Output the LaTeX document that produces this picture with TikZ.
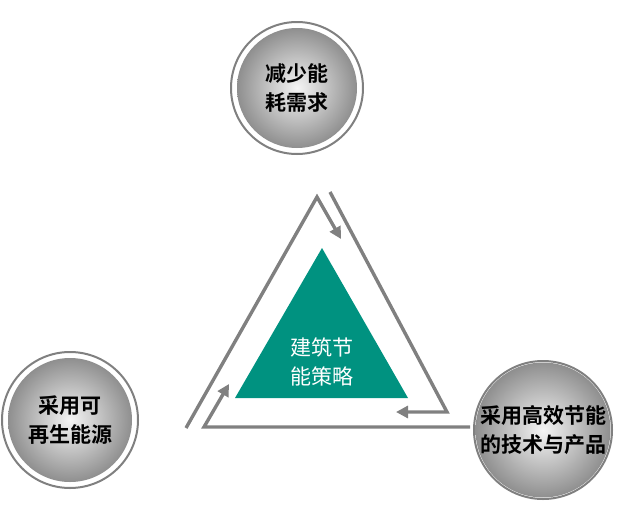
\documentclass[tikz,border=0pt]{standalone}
\usepackage{fontspec}
\newfontfamily\cjk{Noto Sans CJK SC}[BoldFont={Noto Sans CJK SC Bold}]
\usetikzlibrary{arrows.meta, shapes.geometric}
\definecolor{tealgreen}{RGB}{0, 146, 128}
\definecolor{gray50}{gray}{0.5}

\tikzset{
    ball/.style={circle, draw=gray50, line width=2pt, fill=white,
            minimum size=#1, inner sep=0pt},
    core/.style={circle, shading=radial, inner color=gray!8, outer color=gray!88,
            minimum size=#1, inner sep=0pt, align=center,
            font=\cjk\bfseries\fontsize{21}{29}\selectfont},
    link/.style={draw=gray50, line width=3.4pt, line join=miter},
    tip/.style={link, -{Triangle[length=12pt, width=12pt]}}
}

\begin{document}
\begin{tikzpicture}[x=1pt, y=-1pt]

    \useasboundingbox (0, 0) rectangle (640, 525);

    % centre triangle
    \fill[color=tealgreen] (322, 248) -- (408, 398) -- (235, 398) -- cycle;
    \node[text=white, align=center, font=\cjk\fontsize{21}{29}\selectfont]
    (strategy) at (322, 362) {建筑节\\能策略};

    % arrows between the circles
    \coordinate (apex) at (317, 197);
    \coordinate (rcorner) at (447, 412);
    \coordinate (lcorner) at (204, 427);
    \draw[tip] (186, 428) -- (apex) -- (341, 239);
    \draw[tip] (330, 192) -- (rcorner) -- (396, 412);
    \draw[tip] (470, 427) -- (lcorner) -- (229, 384);

    % circles
    \foreach \name/\x/\y/\r/\txt in {
            top/297/88/132/{减少能\\耗需求},
            left/70/420/136/{采用可\\再生能源},
            right/543/430/138/{采用高效节能\\的技术与产品}} {
            \node[ball=\r pt] (\name ring) at (\x, \y) {};
            \node[core={\r pt - 12pt}] (\name) at (\x, \y) {\txt};
        }

\end{tikzpicture}
\end{document}
